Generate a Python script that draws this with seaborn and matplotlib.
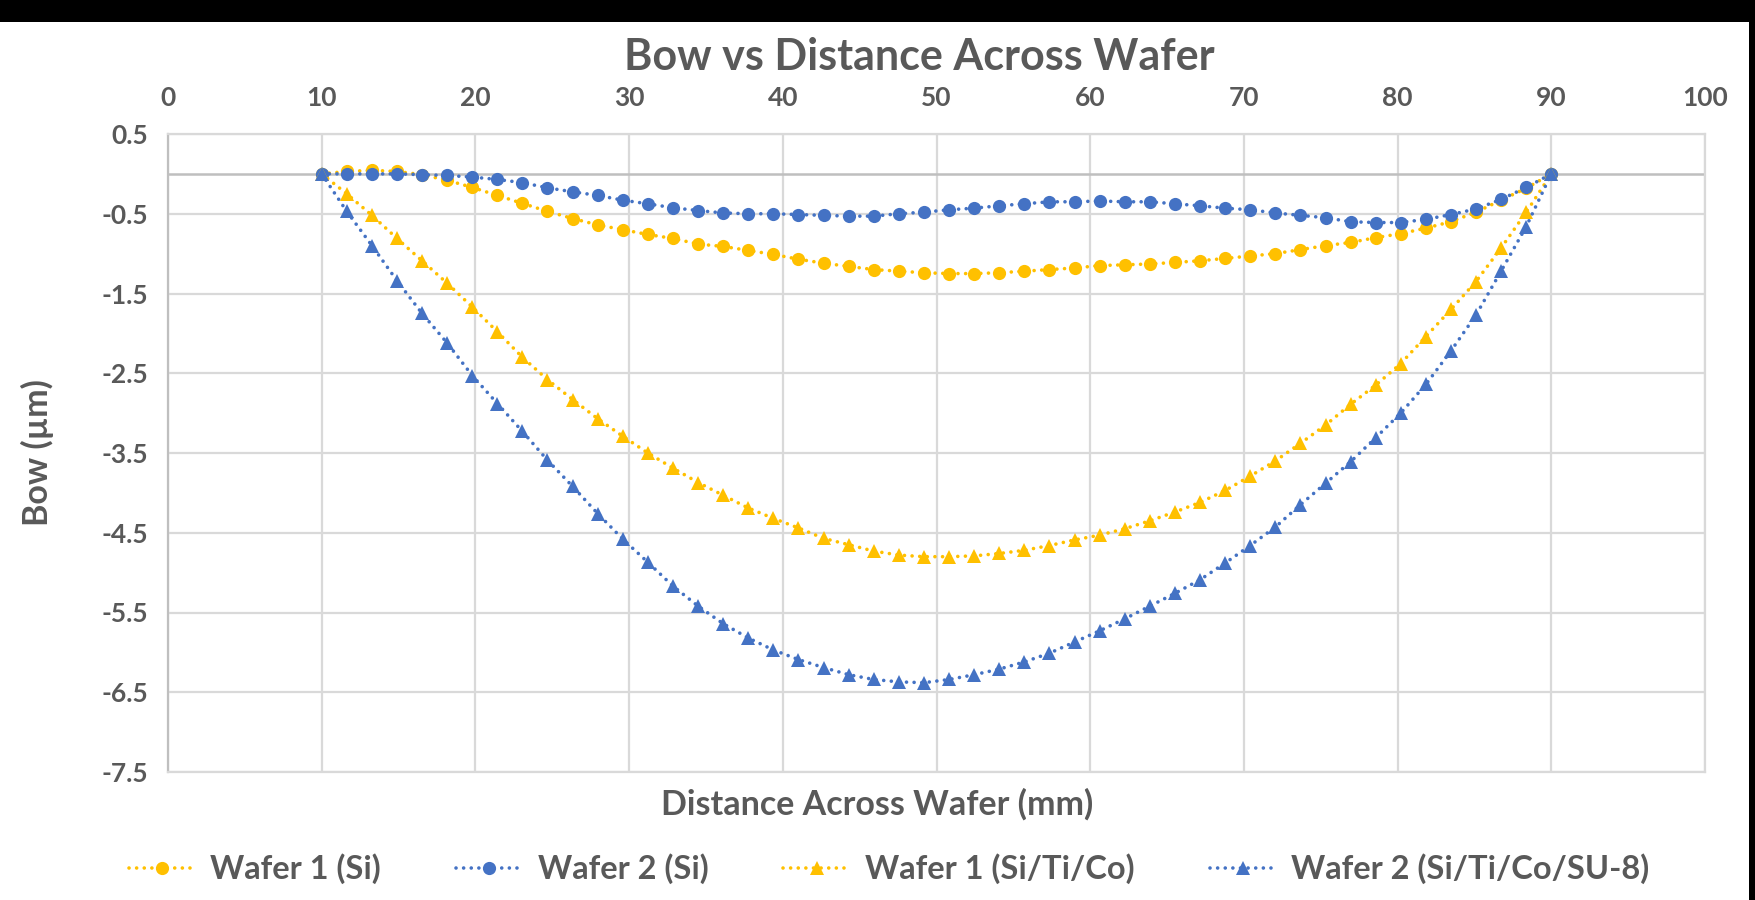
import matplotlib
matplotlib.use("Agg")
import matplotlib.pyplot as plt
from matplotlib.patches import Rectangle
import seaborn as sns

# ---------------- data ----------------
distance_mm = [10.00, 11.63, 13.27, 14.90, 16.53, 18.16, 19.80, 21.43, 23.06, 24.69,
               26.33, 27.96, 29.59, 31.22, 32.86, 34.49, 36.12, 37.76, 39.39, 41.02,
               42.65, 44.29, 45.92, 47.55, 49.18, 50.82, 52.45, 54.08, 55.71, 57.35,
               58.98, 60.61, 62.24, 63.88, 65.51, 67.14, 68.78, 70.41, 72.04, 73.67,
               75.31, 76.94, 78.57, 80.20, 81.84, 83.47, 85.10, 86.73, 88.37, 90.00]

wafer1_si = [0.00, 0.03, 0.045, 0.03, -0.01, -0.08, -0.17, -0.27, -0.37, -0.47,
             -0.56, -0.64, -0.70, -0.76, -0.81, -0.88, -0.91, -0.96, -1.01, -1.07,
             -1.12, -1.16, -1.20, -1.22, -1.24, -1.25, -1.25, -1.24, -1.22, -1.20,
             -1.18, -1.15, -1.14, -1.13, -1.11, -1.09, -1.06, -1.03, -1.00, -0.95,
             -0.90, -0.86, -0.80, -0.75, -0.68, -0.60, -0.48, -0.33, -0.18, 0.00]

wafer2_si = [0.00, 0.00, 0.00, 0.00, -0.01, -0.02, -0.04, -0.07, -0.11, -0.175,
             -0.225, -0.27, -0.33, -0.375, -0.425, -0.46, -0.49, -0.50, -0.50, -0.51,
             -0.52, -0.53, -0.53, -0.50, -0.48, -0.45, -0.43, -0.40, -0.375, -0.35,
             -0.35, -0.34, -0.35, -0.35, -0.375, -0.40, -0.43, -0.45, -0.49, -0.52,
             -0.55, -0.60, -0.61, -0.61, -0.57, -0.51, -0.44, -0.32, -0.17, 0.00]

wafer1_sitico = [0.00, -0.25, -0.52, -0.81, -1.09, -1.37, -1.67, -1.98, -2.30, -2.58,
                 -2.83, -3.07, -3.29, -3.50, -3.69, -3.87, -4.03, -4.19, -4.32, -4.44,
                 -4.57, -4.65, -4.73, -4.78, -4.80, -4.80, -4.79, -4.76, -4.72, -4.66,
                 -4.59, -4.53, -4.45, -4.35, -4.24, -4.12, -3.97, -3.79, -3.60, -3.38,
                 -3.15, -2.89, -2.65, -2.38, -2.04, -1.70, -1.35, -0.93, -0.48, 0.00]

wafer2_sitico_su8 = [0.00, -0.47, -0.90, -1.34, -1.75, -2.12, -2.53, -2.88, -3.23, -3.59,
                     -3.92, -4.26, -4.58, -4.87, -5.17, -5.42, -5.64, -5.82, -5.97, -6.09,
                     -6.19, -6.28, -6.34, -6.37, -6.38, -6.34, -6.28, -6.21, -6.12, -6.01,
                     -5.87, -5.73, -5.58, -5.42, -5.26, -5.09, -4.88, -4.66, -4.43, -4.15,
                     -3.88, -3.61, -3.31, -3.00, -2.64, -2.22, -1.77, -1.22, -0.66, 0.00]

series_labels = ["Wafer 1 (Si)", "Wafer 2 (Si)", "Wafer 1 (Si/Ti/Co)", "Wafer 2 (Si/Ti/Co/SU-8)"]
x_ticks = [0, 10, 20, 30, 40, 50, 60, 70, 80, 90, 100]
y_ticks = [0.5, -0.5, -1.5, -2.5, -3.5, -4.5, -5.5, -6.5, -7.5]
y_tick_labels = ["0.5", "-0.5", "-1.5", "-2.5", "-3.5", "-4.5", "-5.5", "-6.5", "-7.5"]

title_text = "Bow vs Distance Across Wafer"
x_label = "Distance Across Wafer (mm)"
y_label = "Bow (\u00b5m)"

# ---------------- style ----------------
sns.set_theme(style="white")
plt.rcParams["font.family"] = ["Lato", "DejaVu Sans"]
TXT = "#595959"
ORANGE = "#FFC000"
BLUE = "#4472C4"
GRID = "#D9D9D9"

W, H = 1755, 900
fig = plt.figure(figsize=(W / 100, H / 100), dpi=100)
fig.patch.set_facecolor("white")

# plot area (pixel coordinates from the reference)
left, right, top, bottom = 168, 1705, 134, 772
ax = fig.add_axes([left / W, 1 - bottom / H, (right - left) / W, (bottom - top) / H])

series = [
    (wafer1_si, ORANGE, "o", 9.5),
    (wafer2_si, BLUE, "o", 9.5),
    (wafer1_sitico, ORANGE, "^", 10),
    (wafer2_sitico_su8, BLUE, "^", 10),
]
for (vals, col, mk, ms), lab in zip(series, series_labels):
    sns.lineplot(x=distance_mm, y=vals, ax=ax, color=col, marker=mk, markersize=ms,
                 markeredgewidth=0, linewidth=2.6, linestyle=(0, (0.01, 2.1)),
                 dash_capstyle="round", sort=False, label=lab, legend=False, zorder=3)

ax.set_xlim(0, 100)
ax.set_ylim(-7.5, 0.5)
ax.set_xticks(x_ticks)
ax.set_yticks(y_ticks)
ax.set_yticklabels(y_tick_labels)
ax.xaxis.tick_top()
ax.tick_params(axis="both", length=0, labelsize=19, labelcolor=TXT)
ax.tick_params(axis="x", pad=17)
ax.tick_params(axis="y", pad=14)
for lbl in ax.get_xticklabels() + ax.get_yticklabels():
    lbl.set_fontweight("bold")

ax.grid(True, color=GRID, linewidth=1.6)
ax.set_axisbelow(True)
for side, sp in ax.spines.items():
    sp.set_color(GRID)
    sp.set_linewidth(1.6)
ax.spines["left"].set_color("#BFBFBF")
ax.axhline(0, color="#BFBFBF", linewidth=1.8, zorder=2)
ax.set_xlabel("")
ax.set_ylabel("")

# titles / axis labels
fig.text(919 / W, 1 - 57 / H, title_text, ha="center", va="center",
         fontsize=31, fontweight="bold", color=TXT)
fig.text(877 / W, 1 - 804 / H, x_label, ha="center", va="center",
         fontsize=24.5, fontweight="bold", color=TXT)
fig.text(37 / W, 1 - 453 / H, y_label, ha="center", va="center", rotation=90,
         fontsize=24.5, fontweight="bold", color=TXT)

# legend
handles, labels = ax.get_legend_handles_labels()
leg = fig.legend(handles, labels, loc="center", bbox_to_anchor=(889 / W, 1 - 869 / H),
                 ncol=4, frameon=False, fontsize=23.5, handlelength=2.05,
                 columnspacing=2.3, handletextpad=0.45)
for t in leg.get_texts():
    t.set_fontweight("bold")
    t.set_color(TXT)

# black framing bands seen in the reference screenshot
fig.patches.append(Rectangle((0, 1 - 22 / H), 1, 22 / H, transform=fig.transFigure,
                             facecolor="black", edgecolor="none", zorder=10))
fig.patches.append(Rectangle((1 - 6 / W, 0), 6 / W, 1, transform=fig.transFigure,
                             facecolor="black", edgecolor="none", zorder=10))

fig.savefig("out.png", dpi=100, facecolor="white")
